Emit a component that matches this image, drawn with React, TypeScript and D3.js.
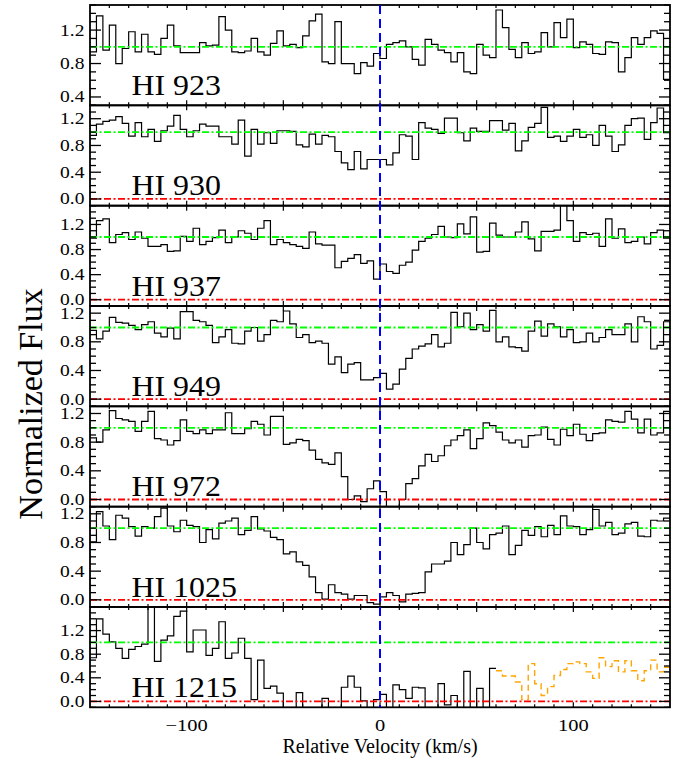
import * as d3 from "d3";

// ── Tokens ────────────────────────────────────────────────────────────────────

const SERIF = "Liberation Serif";
const GREEN = "#00ff00";
const RED = "#ff0000";
const BLUE = "#0000ff";
const ORANGE = "#ffa500";

const W = 686, H = 761;
const X0 = 90, X1 = 670, TOP = 5, PANEL_H = 100.33;

// ── Data ──────────────────────────────────────────────────────────────────────

const VEL_MIN = -150, VEL_MAX = 150, BIN = 10 / 3;

const LABELS = ["HI 923", "HI 930", "HI 937", "HI 949", "HI 972", "HI 1025", "HI 1215"];

const Y_DOMAINS: [number, number][] = [
  [0.3, 1.5], [-0.1, 1.4], [-0.1, 1.5], [-0.1, 1.3], [-0.1, 1.3], [-0.1, 1.3], [-0.1, 1.6],
];

const HI923 = [
  0.94, 1.37, 0.96, 1.26, 0.80, 0.98, 1.18, 0.94, 1.15, 0.94,
  0.91, 1.10, 1.26, 1.01, 0.93, 0.93, 0.93, 1.05, 1.01, 1.02,
  1.36, 1.20, 0.94, 0.93, 0.95, 1.10, 0.94, 0.90, 1.04, 1.19,
  1.01, 1.03, 0.99, 1.13, 1.31, 1.39, 0.82, 0.80, 1.30, 0.80,
  0.80, 0.68, 0.81, 0.77, 0.92, 0.86, 1.03, 1.05, 1.07, 1.00,
  0.85, 0.78, 1.09, 1.03, 0.96, 0.93, 0.82, 0.93, 0.70, 0.68,
  1.03, 0.90, 0.87, 1.44, 1.23, 0.97, 0.87, 1.05, 0.92, 0.94,
  1.17, 1.00, 1.29, 1.11, 1.33, 0.99, 1.06, 1.03, 0.92, 0.91,
  1.06, 1.05, 0.70, 0.87, 1.11, 1.03, 1.11, 1.19, 1.16, 0.61,
];

const HI930 = [
  0.95, 1.12, 1.16, 1.18, 1.23, 1.13, 0.94, 1.14, 0.93, 1.04,
  0.86, 1.02, 1.09, 1.25, 1.04, 0.93, 1.02, 1.12, 1.09, 1.09,
  0.93, 0.93, 0.82, 1.18, 0.64, 1.04, 0.82, 0.99, 0.83, 1.02,
  1.02, 1.01, 0.81, 0.78, 0.97, 0.82, 0.95, 0.93, 0.71, 0.54,
  0.44, 0.71, 0.45, 0.59, 0.59, 0.59, 0.51, 0.69, 0.96, 0.94,
  0.59, 1.14, 1.06, 1.04, 0.98, 1.21, 1.21, 0.99, 0.87, 1.06,
  1.01, 1.01, 1.17, 1.17, 1.03, 1.13, 0.72, 0.87, 1.07, 1.13,
  1.37, 0.92, 0.94, 0.86, 0.94, 1.04, 0.92, 0.96, 0.80, 1.10,
  0.94, 0.71, 0.81, 1.10, 1.20, 1.21, 0.89, 1.14, 1.36, 0.99,
];

const HI937 = [
  0.98, 1.26, 1.29, 0.91, 1.04, 1.07, 0.96, 1.08, 0.98, 0.85,
  0.85, 0.88, 0.77, 0.78, 1.01, 0.93, 1.14, 0.88, 0.93, 0.99,
  1.11, 0.91, 1.00, 1.10, 1.06, 0.96, 1.14, 1.26, 0.88, 0.96,
  0.91, 0.88, 0.85, 0.82, 1.08, 0.89, 0.87, 0.87, 0.51, 0.61,
  0.66, 0.72, 0.58, 0.62, 0.33, 0.57, 0.45, 0.42, 0.55, 0.60,
  0.79, 0.93, 0.98, 1.04, 1.17, 1.00, 0.99, 1.21, 1.05, 1.32,
  0.76, 0.77, 1.22, 1.03, 1.00, 1.00, 1.08, 1.24, 0.97, 0.78,
  1.09, 1.09, 1.11, 1.60, 1.26, 0.93, 1.07, 1.04, 1.06, 0.85,
  1.29, 0.98, 1.13, 0.91, 0.93, 1.00, 0.89, 1.07, 1.11, 0.98,
];

const HI949 = [
  0.96, 0.84, 0.95, 1.14, 1.07, 1.06, 1.03, 0.97, 1.04, 1.08,
  0.92, 0.87, 0.99, 0.84, 1.22, 1.22, 1.10, 1.08, 1.03, 0.79,
  0.87, 0.97, 0.78, 0.77, 0.95, 1.00, 0.81, 0.90, 1.10, 1.08,
  1.23, 1.05, 0.86, 0.90, 0.79, 0.81, 0.78, 0.49, 0.59, 0.37,
  0.49, 0.51, 0.27, 0.27, 0.30, 0.36, 0.14, 0.21, 0.42, 0.57,
  0.70, 0.74, 0.77, 0.90, 0.73, 0.78, 1.21, 1.01, 1.20, 0.97,
  1.04, 0.95, 1.24, 0.80, 0.87, 0.73, 0.72, 0.67, 0.95, 1.09,
  0.88, 1.05, 1.01, 0.87, 0.97, 0.79, 0.80, 0.92, 0.80, 0.86,
  0.97, 0.90, 0.90, 1.05, 0.80, 1.15, 1.08, 0.70, 0.75, 1.08,
];

const HI972 = [
  0.86, 0.80, 0.97, 1.24, 1.13, 1.11, 1.09, 0.95, 1.09, 1.23,
  0.85, 0.83, 0.76, 0.82, 1.11, 0.95, 0.92, 0.97, 0.92, 0.97,
  0.97, 1.21, 0.92, 0.92, 0.99, 1.09, 1.05, 0.90, 1.16, 1.16,
  0.77, 0.79, 0.84, 0.82, 0.69, 0.56, 0.51, 0.49, 0.65, 0.32,
  0.00, 0.05, -0.03, 0.15, 0.26, 0.11, -0.15, -0.15, 0.00, 0.22,
  0.29, 0.47, 0.63, 0.53, 0.61, 0.75, 0.83, 0.89, 0.97, 0.71,
  0.85, 1.07, 1.03, 0.94, 0.83, 0.79, 0.83, 0.73, 0.89, 0.90,
  1.01, 0.84, 0.76, 0.98, 0.89, 1.05, 0.91, 0.82, 0.92, 0.93,
  1.11, 1.09, 1.08, 1.23, 1.12, 0.93, 1.12, 0.90, 0.93, 1.23,
];

const HI1025 = [
  0.81, 1.23, 1.03, 0.84, 1.18, 1.14, 1.02, 0.89, 1.02, 1.00,
  1.16, 1.28, 1.03, 0.95, 1.11, 1.04, 1.02, 0.80, 0.98, 0.85,
  1.07, 1.10, 1.14, 0.91, 0.97, 1.16, 0.99, 0.96, 0.87, 0.84,
  0.64, 0.67, 0.53, 0.48, 0.32, 0.10, 0.01, 0.21, 0.10, 0.08,
  0.01, 0.06, 0.06, -0.04, -0.06, 0.04, 0.10, 0.06, -0.03, 0.08,
  0.09, 0.10, 0.39, 0.50, 0.50, 0.54, 0.80, 0.63, 0.77, 1.00,
  0.80, 0.71, 0.91, 0.93, 1.03, 0.63, 0.76, 0.97, 0.90, 1.02,
  0.88, 1.04, 0.91, 1.17, 1.03, 1.02, 0.91, 0.98, 1.26, 1.03,
  1.08, 0.91, 0.93, 1.06, 1.08, 0.89, 0.88, 1.11, 1.10, 1.14,
];

// HI 1215: black spectrum from bin 0, orange (second spectrum) from bin 63
const HI1215 = [
  0.74, 1.40, 1.14, 1.01, 0.90, 0.73, 0.88, 0.93, 0.97, 1.70,
  0.68, 1.04, 1.11, 1.44, 1.53, 0.84, 1.21, 1.21, 0.78, 0.90,
  1.35, 0.73, 0.82, 1.07, 0.73, 0.03, 0.70, 0.22, 0.26, 0.14,
  -0.12, -0.12, 0.15, -0.12, -0.12, -0.12, 0.05, -0.12, -0.12, 0.24,
  0.43, 0.24, 0.01, -0.12, 0.03, 0.12, -0.12, 0.28, 0.20, 0.05,
  0.24, 0.23, -0.12, -0.12, 0.30, -0.06, 0.10, -0.12, 0.51, -0.12,
  0.22, -0.12, 0.56,
];

const HI1215_ALT_START = 63;
const HI1215_ALT = [
  0.52, 0.43, 0.43, 0.33, 0.03, 0.64, 0.30, 0.10, 0.25, 0.44,
  0.54, 0.64, 0.67, 0.64, 0.50, 0.39, 0.74, 0.59, 0.69, 0.50,
  0.69, 0.52, 0.35, 0.52, 0.70, 0.50, 0.58,
];

const FLUX = [HI923, HI930, HI937, HI949, HI972, HI1025, HI1215];

const X_TICK_LABELS = [-100, 0, 100];
const Y_TICK_LABELS = [0.0, 0.4, 0.8, 1.2];

// ── Helpers ───────────────────────────────────────────────────────────────────

function stepPoints(vals: number[], startBin: number): [number, number][] {
  const pts: [number, number][] = [];
  vals.forEach((f, i) => {
    const a = VEL_MIN + (startBin + i) * BIN;
    pts.push([a, f], [a + BIN, f]);
  });
  return pts;
}

function Label({ x, y, text, size, sx = 1, anchor = "start", rotate = 0 }: {
  x: number; y: number; text: string; size: number; sx?: number;
  anchor?: "start" | "middle" | "end"; rotate?: number;
}) {
  return (
    <g transform={`translate(${x},${y}) rotate(${rotate}) scale(${sx},1)`}>
      <text
        x={0}
        y={0}
        textAnchor={anchor}
        fill="#000"
        fontFamily={SERIF}
        style={{ fontFamily: SERIF, fontSize: `${size}px` }}
      >
        {text}
      </text>
    </g>
  );
}

const x = d3.scaleLinear().domain([VEL_MIN, VEL_MAX]).range([X0, X1]);
const fmtY = d3.format(".1f");
const fmtX = d3.format("d");
const DASH_DOT = "7,2.5,2,2.5";

// ── Panel ─────────────────────────────────────────────────────────────────────

function Panel({ i }: { i: number }) {
  const top = TOP + i * PANEL_H;
  const bottom = top + PANEL_H;
  const [y0, y1] = Y_DOMAINS[i];
  const y = d3.scaleLinear().domain([y0, y1]).range([bottom, top]);
  const line = d3.line<[number, number]>().x(d => x(d[0])).y(d => y(d[1]));
  const clipId = `clip-${i}`;

  const kMin = Math.ceil(y0 * 10 - 1e-6), kMax = Math.floor(y1 * 10 + 1e-6);
  const yTicks = d3.range(kMin, kMax + 1);
  const xTicks = d3.range(-140, 150, 10);

  return (
    <g>
      <clipPath id={clipId}>
        <rect x={X0} y={top} width={X1 - X0} height={PANEL_H} />
      </clipPath>

      <path d={line(stepPoints(FLUX[i], 0)) ?? ""} fill="none" stroke="#000"
        strokeWidth={1.2} clipPath={`url(#${clipId})`} />

      {i === 6 && (
        <path d={line(stepPoints(HI1215_ALT, HI1215_ALT_START)) ?? ""} fill="none"
          stroke={ORANGE} strokeWidth={1.4} strokeDasharray="6,4" clipPath={`url(#${clipId})`} />
      )}

      <line x1={X0} x2={X1} y1={y(1)} y2={y(1)} stroke={GREEN} strokeWidth={1.8}
        strokeDasharray={DASH_DOT} />
      {y0 < 0 && (
        <line x1={X0} x2={X1} y1={y(0)} y2={y(0)} stroke={RED} strokeWidth={1.8}
          strokeDasharray={DASH_DOT} />
      )}

      {yTicks.map(k => {
        const yy = y(k / 10);
        const len = k % 4 === 0 ? 11 : 6;
        return (
          <g key={`y${k}`} stroke="#000" strokeWidth={1.3}>
            <line x1={X0} x2={X0 + len} y1={yy} y2={yy} />
            <line x1={X1} x2={X1 - len} y1={yy} y2={yy} />
          </g>
        );
      })}

      {xTicks.map(v => {
        const xx = x(v);
        const len = v % 50 === 0 ? 5 : 3;
        return (
          <g key={`x${v}`} stroke="#000" strokeWidth={1.2}>
            <line x1={xx} x2={xx} y1={bottom} y2={bottom - len} />
            <line x1={xx} x2={xx} y1={top} y2={top + len} />
          </g>
        );
      })}

      <rect x={X0} y={top} width={X1 - X0} height={PANEL_H} fill="none"
        stroke="#000" strokeWidth={1.8} />

      {Y_TICK_LABELS.filter(v => v > y0 + 1e-6 && v < y1 - 1e-6).map(v => (
        <Label key={v} x={84.5} y={y(v) + 5.5} text={fmtY(v)} size={16} sx={1.22} anchor="end" />
      ))}

      <Label x={131.5} y={top + 90} text={LABELS[i]} size={29} sx={1.1} />
    </g>
  );
}

// ── Chart ─────────────────────────────────────────────────────────────────────

export default function App() {
  const plotBottom = TOP + FLUX.length * PANEL_H;
  return (
    <svg
      width={W}
      height={H}
      viewBox={`0 0 ${W} ${H}`}
      style={{ position: "absolute", left: 0, top: 0, background: "#fff" }}
    >
      {FLUX.map((_, i) => <Panel key={i} i={i} />)}

      <line x1={x(0)} x2={x(0)} y1={TOP} y2={plotBottom} stroke={BLUE}
        strokeWidth={2} strokeDasharray="9,5" />

      {X_TICK_LABELS.map(v => (
        <Label key={v} x={x(v)} y={plotBottom + 24} text={fmtX(v)} size={17.5} sx={1.17}
          anchor="middle" />
      ))}

      <Label x={(X0 + X1) / 2} y={753} text="Relative Velocity (km/s)" size={20} anchor="middle" />
      <Label x={41.5} y={404} text="Normalized Flux" size={34} anchor="middle" rotate={-90} />
    </svg>
  );
}
